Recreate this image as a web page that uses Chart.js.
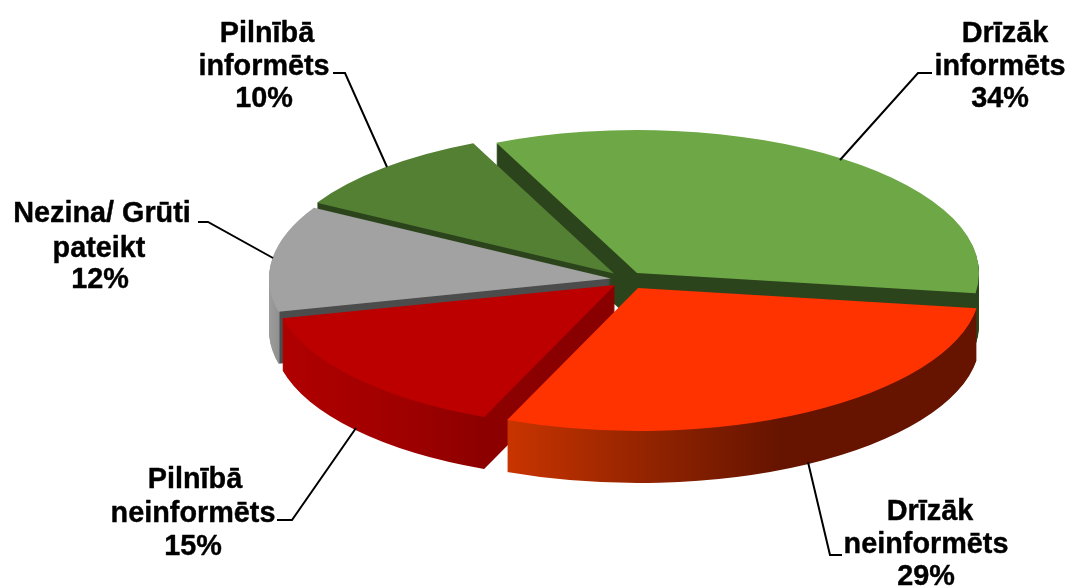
<!DOCTYPE html>
<html><head><meta charset="utf-8">
<style>html,body{margin:0;padding:0;background:#fff}#w{width:1070px;height:587px}</style>
<script src="https://cdn.jsdelivr.net/npm/chart.js@4"></script>
</head><body><div id="w"><canvas id="c" width="1070" height="587"></canvas></div>
<script>
const categories = ['Drīzāk informēts','Drīzāk neinformēts','Pilnībā neinformēts','Nezina/ Grūti pateikt','Pilnībā informēts'];
const values = [34,29,15,12,10];
const topColors = ['#6EA846','#FF3300','#BC0000','#A2A2A2','#548034'];
const sideStops = [
  [[0,'#2C441C'],[1,'#2C441C']],
  [[508,'#C83400'],[660,'#8E2200'],[780,'#661400'],[980,'#661400']],
  [[281,'#B00000'],[400,'#A00000'],[487,'#8C0000'],[612,'#880000']],
  [[266,'#A0A0A0'],[279,'#909090'],[280,'#4C4C4C'],[612,'#4C4C4C']],
  [[0,'#2C441C'],[1,'#2C441C']]
];
const shifts = [[25,-7],[26,8],[3,5],[-1,-1.5],[2,-6.5]];
const drawOrder = [0,4,3,2,1];
const labelBlocks = [
  {lines:[['Drīzāk',1005,42],['informēts',1000,75],['34%',1000,107]], leader:[[932,73],[918,73],[840,160]]},
  {lines:[['Drīzāk',930,520],['neinformēts',926,553],['29%',926,585]], leader:[[808,462],[830,555],[842,555]]},
  {lines:[['Pilnībā',195,488],['neinformēts',193,522],['15%',193,555]], leader:[[356,428],[292,520],[277,520]]},
  {lines:[['Nezina/ Grūti',102,222],['pateikt',99,257],['12%',100,288]], leader:[[198,222],[208,222],[273,258]]},
  {lines:[['Pilnībā',267,42],['informēts',264,75],['10%',264,107]], leader:[[333,73],[345,73],[387,167]]}
];
const rotationDeg = -24.3, pieRadius = 342, squash = 0.418, pieX = 612, pieY = 280, depth = 52;

const pie3d = {
  id:'pie3d',
  beforeDatasetsDraw(chart){
    const ctx = chart.ctx, arcs = chart.getDatasetMeta(0).data;
    const cx = arcs[0].x, cy = arcs[0].y;
    drawOrder.forEach(i=>{
      const arc = arcs[i], base = arc.options, [sx,sy] = shifts[i];
      const stops = sideStops[i];
      const gx = s => s - sx - pieX + cx;
      const x0 = stops[0][0], x1 = stops[stops.length-1][0];
      const g = ctx.createLinearGradient(gx(x0),0,gx(x1),0);
      stops.forEach(([x,c])=>g.addColorStop((x-x0)/(x1-x0),c));
      for(let d=depth;d>=0;d--){
        ctx.save();
        ctx.translate(pieX+sx, pieY+sy+d);
        ctx.scale(1,squash);
        ctx.translate(-cx,-cy);
        arc.options = Object.create(base,{backgroundColor:{value:d===0?topColors[i]:g}});
        arc.draw(ctx);
        ctx.restore();
      }
      arc.options = base;
    });
    return false;
  },
  afterDraw(chart){
    const ctx = chart.ctx;
    ctx.save();
    ctx.fillStyle='#000';ctx.strokeStyle='#000';ctx.lineWidth=2;
    ctx.beginPath();
    labelBlocks.forEach(b=>b.leader.forEach(([x,y],n)=>n?ctx.lineTo(x,y):ctx.moveTo(x,y)));
    ctx.stroke();
    ctx.font='bold 28.8px "Liberation Sans", Arial, sans-serif';
    ctx.textAlign='center';ctx.textBaseline='alphabetic';
    ctx.lineWidth=0.4;ctx.lineJoin='round';
    labelBlocks.forEach(b=>b.lines.forEach(([t,x,y])=>{ctx.fillText(t,x,y);ctx.strokeText(t,x,y);}));
    ctx.restore();
  }
};

new Chart(document.getElementById('c'),{
  type:'pie',
  data:{labels:categories,datasets:[{data:values,backgroundColor:topColors,borderWidth:0}]},
  options:{responsive:false,animation:false,rotation:rotationDeg,radius:pieRadius,
    events:[],layout:{padding:0},
    plugins:{legend:{display:false},tooltip:{enabled:false},title:{display:false}}},
  plugins:[pie3d]
});
</script></body></html>
